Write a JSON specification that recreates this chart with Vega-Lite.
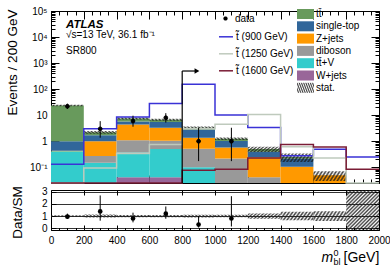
{
  "$schema": "https://vega.github.io/schema/vega-lite/v6.json",
  "padding": {"left": 4, "top": 5, "right": 0, "bottom": 0},
  "spacing": 7,
  "bounds": "flush",
  "config": {
    "font": "Liberation Sans",
    "view": {"stroke": "black", "strokeWidth": 1},
    "axis": {"domain": false, "grid": false, "labelFont": "Liberation Sans", "labelFontSize": 10, "labelColor": "black", "tickColor": "black", "tickWidth": 1, "titleColor": "black", "titleFont": "Liberation Sans", "titleFontWeight": "normal", "labelFlush": false, "labelOverlap": false},
    "legend": {"labelFont": "Liberation Sans", "labelFontSize": 10, "labelColor": "black", "padding": 0}
  },
  "datasets": {
    "bkg": [
      {"lo": 0, "hi": 200, "process": "tt\u0304+V", "events": 0.41},
      {"lo": 0, "hi": 200, "process": "diboson", "events": 0.005},
      {"lo": 0, "hi": 200, "process": "Z+jets", "events": 0.02},
      {"lo": 0, "hi": 200, "process": "single-top", "events": 0.56},
      {"lo": 0, "hi": 200, "process": "tt\u0304", "events": 22.5},
      {"lo": 200, "hi": 400, "process": "tt\u0304+V", "events": 0.15},
      {"lo": 200, "hi": 400, "process": "diboson", "events": 0.12},
      {"lo": 200, "hi": 400, "process": "Z+jets", "events": 0.73},
      {"lo": 200, "hi": 400, "process": "single-top", "events": 0.7},
      {"lo": 200, "hi": 400, "process": "tt\u0304", "events": 0.5},
      {"lo": 400, "hi": 600, "process": "W+jets", "events": 0.042},
      {"lo": 400, "hi": 600, "process": "tt\u0304+V", "events": 0.33},
      {"lo": 400, "hi": 600, "process": "diboson", "events": 0.73},
      {"lo": 400, "hi": 600, "process": "Z+jets", "events": 3.3},
      {"lo": 400, "hi": 600, "process": "single-top", "events": 1.3},
      {"lo": 400, "hi": 600, "process": "tt\u0304", "events": 1.8},
      {"lo": 600, "hi": 800, "process": "W+jets", "events": 0.042},
      {"lo": 600, "hi": 800, "process": "tt\u0304+V", "events": 0.46},
      {"lo": 600, "hi": 800, "process": "diboson", "events": 0.55},
      {"lo": 600, "hi": 800, "process": "Z+jets", "events": 2.25},
      {"lo": 600, "hi": 800, "process": "single-top", "events": 2.2},
      {"lo": 600, "hi": 800, "process": "tt\u0304", "events": 1.2},
      {"lo": 800, "hi": 1000, "process": "tt\u0304+V", "events": 0.1},
      {"lo": 800, "hi": 1000, "process": "diboson", "events": 0.42},
      {"lo": 800, "hi": 1000, "process": "Z+jets", "events": 0.83},
      {"lo": 800, "hi": 1000, "process": "single-top", "events": 1.45},
      {"lo": 800, "hi": 1000, "process": "tt\u0304", "events": 0.5},
      {"lo": 1000, "hi": 1200, "process": "tt\u0304+V", "events": 0.01},
      {"lo": 1000, "hi": 1200, "process": "diboson", "events": 0.21},
      {"lo": 1000, "hi": 1200, "process": "Z+jets", "events": 0.35},
      {"lo": 1000, "hi": 1200, "process": "single-top", "events": 0.46},
      {"lo": 1000, "hi": 1200, "process": "tt\u0304", "events": 0.22},
      {"lo": 1200, "hi": 1400, "process": "diboson", "events": 0.042},
      {"lo": 1200, "hi": 1400, "process": "Z+jets", "events": 0.2},
      {"lo": 1200, "hi": 1400, "process": "single-top", "events": 0.15},
      {"lo": 1200, "hi": 1400, "process": "tt\u0304", "events": 0.11},
      {"lo": 1400, "hi": 1600, "process": "Z+jets", "events": 0.106},
      {"lo": 1400, "hi": 1600, "process": "single-top", "events": 0.11},
      {"lo": 1400, "hi": 1600, "process": "tt\u0304", "events": 0.034},
      {"lo": 1600, "hi": 1800, "process": "Z+jets", "events": 0.05}
    ],
    "stat": [
      {"band": "stat.", "lo": 0, "hi": 200, "slo": 21.9, "shi": 25.1, "rlo": 0.93, "rhi": 1.07},
      {"band": "stat.", "lo": 200, "hi": 400, "slo": 1.94, "shi": 2.46, "rlo": 0.88, "rhi": 1.12},
      {"band": "stat.", "lo": 400, "hi": 600, "slo": 6.8, "shi": 8.2, "rlo": 0.91, "rhi": 1.09},
      {"band": "stat.", "lo": 600, "hi": 800, "slo": 6.1, "shi": 7.3, "rlo": 0.91, "rhi": 1.09},
      {"band": "stat.", "lo": 800, "hi": 1000, "slo": 2.94, "shi": 3.66, "rlo": 0.89, "rhi": 1.11},
      {"band": "stat.", "lo": 1000, "hi": 1200, "slo": 1.13, "shi": 1.38, "rlo": 0.9, "rhi": 1.1},
      {"band": "stat.", "lo": 1200, "hi": 1400, "slo": 0.39, "shi": 0.61, "rlo": 0.78, "rhi": 1.22},
      {"band": "stat.", "lo": 1400, "hi": 1600, "slo": 0.16, "shi": 0.34, "rlo": 0.65, "rhi": 1.35},
      {"band": "stat.", "lo": 1600, "hi": 1800, "slo": 0.03, "shi": 0.07, "rlo": 0.6, "rhi": 1.4},
      {"band": "stat.", "lo": 1800, "hi": 2000, "slo": null, "shi": null, "rlo": -0.3, "rhi": 3.4}
    ],
    "sig": [
      {"series": "t\u0303 (900 GeV)", "x": 0, "val": 0.13},
      {"series": "t\u0303 (900 GeV)", "x": 200, "val": 3.0},
      {"series": "t\u0303 (900 GeV)", "x": 400, "val": 8.6},
      {"series": "t\u0303 (900 GeV)", "x": 600, "val": 28},
      {"series": "t\u0303 (900 GeV)", "x": 800, "val": 155},
      {"series": "t\u0303 (900 GeV)", "x": 1000, "val": 10.3},
      {"series": "t\u0303 (900 GeV)", "x": 1200, "val": 3.4},
      {"series": "t\u0303 (900 GeV)", "x": 1400, "val": 0.28},
      {"series": "t\u0303 (900 GeV)", "x": 1600, "val": 0.49},
      {"series": "t\u0303 (900 GeV)", "x": 1800, "val": 0.25},
      {"series": "t\u0303 (900 GeV)", "x": 2000, "val": 0.25},
      {"series": "t\u0303 (1250 GeV)", "x": 0, "val": 0.01},
      {"series": "t\u0303 (1250 GeV)", "x": 200, "val": 0.094},
      {"series": "t\u0303 (1250 GeV)", "x": 400, "val": 0.34},
      {"series": "t\u0303 (1250 GeV)", "x": 600, "val": 0.75},
      {"series": "t\u0303 (1250 GeV)", "x": 800, "val": 3.0},
      {"series": "t\u0303 (1250 GeV)", "x": 1000, "val": 4.5},
      {"series": "t\u0303 (1250 GeV)", "x": 1200, "val": 10.6},
      {"series": "t\u0303 (1250 GeV)", "x": 1400, "val": 0.62},
      {"series": "t\u0303 (1250 GeV)", "x": 1600, "val": 0.23},
      {"series": "t\u0303 (1250 GeV)", "x": 1800, "val": 0.01},
      {"series": "t\u0303 (1250 GeV)", "x": 2000, "val": 0.01},
      {"series": "t\u0303 (1600 GeV)", "x": 0, "val": 0.01},
      {"series": "t\u0303 (1600 GeV)", "x": 200, "val": 0.01},
      {"series": "t\u0303 (1600 GeV)", "x": 400, "val": 0.01},
      {"series": "t\u0303 (1600 GeV)", "x": 600, "val": 0.01},
      {"series": "t\u0303 (1600 GeV)", "x": 800, "val": 0.077},
      {"series": "t\u0303 (1600 GeV)", "x": 1000, "val": 0.084},
      {"series": "t\u0303 (1600 GeV)", "x": 1200, "val": 0.23},
      {"series": "t\u0303 (1600 GeV)", "x": 1400, "val": 0.75},
      {"series": "t\u0303 (1600 GeV)", "x": 1600, "val": 0.6},
      {"series": "t\u0303 (1600 GeV)", "x": 1800, "val": 0.084},
      {"series": "t\u0303 (1600 GeV)", "x": 2000, "val": 0.084}
    ],
    "obs": [
      {"kind": "data", "x": 100, "n": 22, "lo": 17.4, "hi": 27.8, "ratio": 0.95, "rlo": 0.76, "rhi": 1.2},
      {"kind": "data", "x": 300, "n": 3, "lo": 1.37, "hi": 5.92, "ratio": 1.38, "rlo": 0.62, "rhi": 2.7},
      {"kind": "data", "x": 500, "n": 6, "lo": 3.62, "hi": 9.58, "ratio": 0.8, "rlo": 0.48, "rhi": 1.28},
      {"kind": "data", "x": 700, "n": 8, "lo": 5.22, "hi": 11.96, "ratio": 1.2, "rlo": 0.78, "rhi": 1.79},
      {"kind": "data", "x": 900, "n": 1, "lo": 0.173, "hi": 3.3, "ratio": 0.3, "rlo": 0.05, "rhi": 1.0},
      {"kind": "data", "x": 1100, "n": 1, "lo": 0.173, "hi": 3.3, "ratio": 0.8, "rlo": 0.14, "rhi": 2.64}
    ]
  },
  "vconcat": [
    {
      "width": 328,
      "height": 172,
      "resolve": {"axis": {"x": "independent", "y": "independent"}, "scale": {"opacity": "independent"}, "legend": {"opacity": "independent"}},
      "layer": [
        {
          "data": {"name": "bkg"},
          "transform": [{"stack": "events", "groupby": ["lo"], "as": ["y0", "y1"]}],
          "mark": {"type": "rect"},
          "encoding": {
            "x": {"field": "lo", "type": "quantitative", "scale": {"domain": [0, 2000], "nice": false, "zero": false},
                  "axis": {"orient": "bottom", "values": [0, 200, 400, 600, 800, 1000, 1200, 1400, 1600, 1800, 2000], "labels": false, "tickSize": -8, "title": null}},
            "x2": {"field": "hi"},
            "y": {"field": "y1", "type": "quantitative", "scale": {"type": "log", "domain": [0.025, 100000], "nice": false, "clamp": true},
                  "axis": {"orient": "left", "values": [0.1, 1, 10, 100, 1000, 10000, 100000], "ticks": false, "tickSize": 0, "labelPadding": 4,
                           "labelExpr": "datum.value == 100000 ? '10\u2075' : datum.value == 10000 ? '10\u2074' : datum.value == 1000 ? '10\u00b3' : datum.value == 100 ? '10\u00b2' : datum.value == 10 ? '10' : datum.value == 1 ? '1' : '10\u207b\u00b9'",
                           "title": "Events / 200 GeV", "titleFontSize": 13.5, "titleX": -39, "titleY": 51, "titleAngle": -90, "titleAlign": "center", "titleBaseline": "middle"}},
            "y2": {"field": "y0"},
            "fill": {"field": "process", "type": "nominal",
                     "scale": {"domain": ["tt\u0304", "single-top", "Z+jets", "diboson", "tt\u0304+V", "W+jets"],
                               "range": ["#689a5c", "#31669a", "#ff9900", "#999999", "#33cccc", "#996699"]},
                     "legend": {"orient": "none", "legendX": 249.5, "legendY": -2, "title": null, "direction": "vertical",
                                "symbolType": "M-1.7,-1H1.7V1H-1.7Z", "symbolSize": 100, "symbolStrokeWidth": 0,
                                "labelFontSize": 10, "labelOffset": 5.5, "rowPadding": 2.3}}
          }
        },
        {
          "data": {"name": "stat"},
          "transform": [{"filter": {"field": "shi", "valid": true}}],
          "mark": {"type": "rect", "fill": {"gradient": "linear", "x1": 0, "y1": 0, "x2": 1.14, "y2": 0.21, "stops": [
            {"offset": 0, "color": "rgba(0,0,0,0)"}, {"offset": 0.0455, "color": "rgba(30,30,30,0.85)"}, {"offset": 0.0909, "color": "rgba(0,0,0,0)"}, {"offset": 0.1364, "color": "rgba(30,30,30,0.85)"},
            {"offset": 0.1818, "color": "rgba(0,0,0,0)"}, {"offset": 0.2273, "color": "rgba(30,30,30,0.85)"}, {"offset": 0.2727, "color": "rgba(0,0,0,0)"}, {"offset": 0.3182, "color": "rgba(30,30,30,0.85)"},
            {"offset": 0.3636, "color": "rgba(0,0,0,0)"}, {"offset": 0.4091, "color": "rgba(30,30,30,0.85)"}, {"offset": 0.4545, "color": "rgba(0,0,0,0)"}, {"offset": 0.5, "color": "rgba(30,30,30,0.85)"},
            {"offset": 0.5455, "color": "rgba(0,0,0,0)"}, {"offset": 0.5909, "color": "rgba(30,30,30,0.85)"}, {"offset": 0.6364, "color": "rgba(0,0,0,0)"}, {"offset": 0.6818, "color": "rgba(30,30,30,0.85)"},
            {"offset": 0.7273, "color": "rgba(0,0,0,0)"}, {"offset": 0.7727, "color": "rgba(30,30,30,0.85)"}, {"offset": 0.8182, "color": "rgba(0,0,0,0)"}, {"offset": 0.8636, "color": "rgba(30,30,30,0.85)"},
            {"offset": 0.9091, "color": "rgba(0,0,0,0)"}, {"offset": 0.9545, "color": "rgba(30,30,30,0.85)"}, {"offset": 1, "color": "rgba(0,0,0,0)"}]}},
          "encoding": {
            "x": {"field": "lo", "type": "quantitative", "axis": {"orient": "bottom", "values": [0, 50, 100, 150, 200, 250, 300, 350, 400, 450, 500, 550, 600, 650, 700, 750, 800, 850, 900, 950, 1000, 1050, 1100, 1150, 1200, 1250, 1300, 1350, 1400, 1450, 1500, 1550, 1600, 1650, 1700, 1750, 1800, 1850, 1900, 1950, 2000], "labels": false, "tickSize": -4, "title": null}},
            "x2": {"field": "hi"},
            "y": {"field": "shi", "type": "quantitative", "axis": {"orient": "left", "values": [0.1, 1, 10, 100, 1000, 10000, 100000], "labels": false, "tickSize": -8, "title": null}},
            "y2": {"field": "slo"},
            "opacity": {"field": "band", "type": "nominal", "scale": {"range": [1]},
                        "legend": {"orient": "none", "legendX": 249.5, "legendY": 71.8, "title": null, "direction": "vertical",
                                   "symbolType": "M-1.7,-1H1.7V1H-1.7Z", "symbolSize": 100, "symbolStrokeWidth": 0,
                                   "labelFontSize": 10, "labelOffset": 5.5}}
          }
        },
        {
          "data": {"name": "sig"},
          "mark": {"type": "line", "interpolate": "step-after", "strokeWidth": 1.5},
          "encoding": {
            "x": {"field": "x", "type": "quantitative", "axis": {"orient": "top", "values": [0, 200, 400, 600, 800, 1000, 1200, 1400, 1600, 1800, 2000], "labels": false, "tickSize": -8, "title": null}},
            "y": {"field": "val", "type": "quantitative", "axis": {"orient": "left", "values": [0.03, 0.04, 0.05, 0.06, 0.07, 0.08, 0.09, 0.2, 0.3, 0.4, 0.5, 0.6, 0.7, 0.8, 0.9, 2, 3, 4, 5, 6, 7, 8, 9, 20, 30, 40, 50, 60, 70, 80, 90, 200, 300, 400, 500, 600, 700, 800, 900, 2000, 3000, 4000, 5000, 6000, 7000, 8000, 9000, 20000, 30000, 40000, 50000, 60000, 70000, 80000, 90000], "labels": false, "tickSize": -4, "title": null}},
            "stroke": {"field": "series", "type": "nominal",
                       "scale": {"domain": ["t\u0303 (900 GeV)", "t\u0303 (1250 GeV)", "t\u0303 (1600 GeV)"], "range": ["#3a32d6", "#bfcabd", "#7a1c35"]},
                       "legend": {"orient": "none", "legendX": 167, "legendY": 17.8, "title": null, "direction": "vertical",
                                  "symbolType": "stroke", "symbolSize": 196, "symbolStrokeWidth": 1.5, "labelFontSize": 10, "labelOffset": 2, "rowPadding": 4}}
          }
        },
        {
          "data": {"name": "obs"},
          "mark": {"type": "rule", "color": "black", "strokeWidth": 1},
          "encoding": {
            "x": {"field": "x", "type": "quantitative", "axis": {"orient": "top", "values": [0, 50, 100, 150, 200, 250, 300, 350, 400, 450, 500, 550, 600, 650, 700, 750, 800, 850, 900, 950, 1000, 1050, 1100, 1150, 1200, 1250, 1300, 1350, 1400, 1450, 1500, 1550, 1600, 1650, 1700, 1750, 1800, 1850, 1900, 1950, 2000], "labels": false, "tickSize": -4, "title": null}},
            "y": {"field": "lo", "type": "quantitative", "axis": {"orient": "right", "values": [0.1, 1, 10, 100, 1000, 10000, 100000], "labels": false, "tickSize": -8, "title": null}},
            "y2": {"field": "hi"}
          }
        },
        {
          "data": {"name": "obs"},
          "mark": {"type": "circle", "color": "black", "stroke": "black", "strokeWidth": 1, "size": 14},
          "encoding": {
            "x": {"field": "x", "type": "quantitative", "axis": null},
            "y": {"field": "n", "type": "quantitative", "axis": {"orient": "right", "values": [0.03, 0.04, 0.05, 0.06, 0.07, 0.08, 0.09, 0.2, 0.3, 0.4, 0.5, 0.6, 0.7, 0.8, 0.9, 2, 3, 4, 5, 6, 7, 8, 9, 20, 30, 40, 50, 60, 70, 80, 90, 200, 300, 400, 500, 600, 700, 800, 900, 2000, 3000, 4000, 5000, 6000, 7000, 8000, 9000, 20000, 30000, 40000, 50000, 60000, 70000, 80000, 90000], "labels": false, "tickSize": -4, "title": null}},
            "opacity": {"field": "kind", "type": "nominal", "scale": {"range": [1]},
                        "legend": {"orient": "none", "legendX": 167, "legendY": 0, "title": null, "direction": "vertical",
                                   "symbolType": "M0,-0.75V0.75M0.3,0.124L0.124,0.3L-0.124,0.3L-0.3,0.124L-0.3,-0.124L-0.124,-0.3L0.124,-0.3L0.3,-0.124Z",
                                   "symbolSize": 196, "symbolFillColor": "black", "symbolStrokeColor": "black", "symbolStrokeWidth": 1,
                                   "labelFontSize": 10, "labelOffset": 2}}
          }
        },
        {
          "data": {"values": [{}]},
          "mark": {"type": "rule", "color": "black", "strokeWidth": 1.2},
          "encoding": {
            "x": {"datum": 800, "type": "quantitative", "axis": null},
            "y": {"datum": 0.01, "type": "quantitative", "axis": null},
            "y2": {"datum": 497}
          }
        },
        {
          "data": {"values": [{}]},
          "mark": {"type": "rule", "color": "black", "strokeWidth": 1.2},
          "encoding": {
            "x": {"datum": 800, "type": "quantitative", "axis": null},
            "x2": {"datum": 880},
            "y": {"datum": 497, "type": "quantitative", "axis": null}
          }
        },
        {
          "data": {"values": [{}]},
          "mark": {"type": "point", "shape": "triangle-right", "filled": true, "color": "black", "opacity": 1, "size": 30},
          "encoding": {
            "x": {"datum": 890, "type": "quantitative", "axis": null},
            "y": {"datum": 497, "type": "quantitative", "axis": null}
          }
        },
        {
          "data": {"values": [{}]},
          "mark": {"type": "text", "text": "ATLAS", "font": "Liberation Sans", "fontSize": 11.5, "fontWeight": "bold", "fontStyle": "italic", "align": "left", "baseline": "alphabetic", "color": "black"},
          "encoding": {
            "x": {"datum": 91.5, "type": "quantitative", "axis": null},
            "y": {"datum": 22250, "type": "quantitative", "axis": null}
          }
        },
        {
          "data": {"values": [{}]},
          "mark": {"type": "text", "text": "\u221as=13 TeV, 36.1 fb\u207b\u00b9", "font": "Liberation Sans", "fontSize": 10, "align": "left", "baseline": "alphabetic", "color": "black"},
          "encoding": {
            "x": {"datum": 91.5, "type": "quantitative", "axis": null},
            "y": {"datum": 9190, "type": "quantitative", "axis": null}
          }
        },
        {
          "data": {"values": [{}]},
          "mark": {"type": "text", "text": "SR800", "font": "Liberation Sans", "fontSize": 10, "align": "left", "baseline": "alphabetic", "color": "black"},
          "encoding": {
            "x": {"datum": 91.5, "type": "quantitative", "axis": null},
            "y": {"datum": 2233, "type": "quantitative", "axis": null}
          }
        }
      ]
    },
    {
      "width": 328,
      "height": 40,
      "resolve": {"axis": {"x": "independent", "y": "independent"}},
      "layer": [
        {
          "data": {"name": "stat"},
          "transform": [{"filter": "datum.lo < 1800"}],
          "mark": {"type": "rect", "fill": {"gradient": "linear", "x1": 0, "y1": 0, "x2": 1.14, "y2": 0.21, "stops": [
            {"offset": 0, "color": "rgba(0,0,0,0)"}, {"offset": 0.0455, "color": "rgba(30,30,30,0.85)"}, {"offset": 0.0909, "color": "rgba(0,0,0,0)"}, {"offset": 0.1364, "color": "rgba(30,30,30,0.85)"},
            {"offset": 0.1818, "color": "rgba(0,0,0,0)"}, {"offset": 0.2273, "color": "rgba(30,30,30,0.85)"}, {"offset": 0.2727, "color": "rgba(0,0,0,0)"}, {"offset": 0.3182, "color": "rgba(30,30,30,0.85)"},
            {"offset": 0.3636, "color": "rgba(0,0,0,0)"}, {"offset": 0.4091, "color": "rgba(30,30,30,0.85)"}, {"offset": 0.4545, "color": "rgba(0,0,0,0)"}, {"offset": 0.5, "color": "rgba(30,30,30,0.85)"},
            {"offset": 0.5455, "color": "rgba(0,0,0,0)"}, {"offset": 0.5909, "color": "rgba(30,30,30,0.85)"}, {"offset": 0.6364, "color": "rgba(0,0,0,0)"}, {"offset": 0.6818, "color": "rgba(30,30,30,0.85)"},
            {"offset": 0.7273, "color": "rgba(0,0,0,0)"}, {"offset": 0.7727, "color": "rgba(30,30,30,0.85)"}, {"offset": 0.8182, "color": "rgba(0,0,0,0)"}, {"offset": 0.8636, "color": "rgba(30,30,30,0.85)"},
            {"offset": 0.9091, "color": "rgba(0,0,0,0)"}, {"offset": 0.9545, "color": "rgba(30,30,30,0.85)"}, {"offset": 1, "color": "rgba(0,0,0,0)"}]}},
          "encoding": {
            "x": {"field": "lo", "type": "quantitative", "scale": {"domain": [0, 2000], "nice": false, "zero": false},
                  "axis": {"orient": "bottom", "values": [0, 200, 400, 600, 800, 1000, 1200, 1400, 1600, 1800, 2000], "format": "d", "ticks": false, "tickSize": 0, "labelPadding": 5,
                           "title": "[GeV]", "titleFontSize": 14, "titleX": 292, "titleY": 31, "titleAlign": "left", "titleBaseline": "alphabetic"}},
            "x2": {"field": "hi"},
            "y": {"field": "rhi", "type": "quantitative", "scale": {"domain": [-0.15, 3.15], "nice": false, "zero": false, "clamp": true},
                  "axis": {"orient": "left", "values": [0, 1, 2, 3], "ticks": false, "tickSize": 0, "labelPadding": 4, "grid": true, "gridColor": "#333333", "gridWidth": 1, "gridOpacity": 1,
                           "title": "Data/SM", "titleFontSize": 13.5, "titleX": -34, "titleY": 22, "titleAngle": -90, "titleAlign": "center", "titleBaseline": "middle"}},
            "y2": {"field": "rlo"}
          }
        },
        {
          "data": {"name": "stat"},
          "transform": [{"filter": "datum.lo >= 1800"}],
          "mark": {"type": "rect", "fill": {"gradient": "linear", "x1": 0, "y1": 0, "x2": 0.896, "y2": 1.086, "stops": [
            {"offset": 0, "color": "rgba(0,0,0,0)"}, {"offset": 0.025, "color": "rgba(30,30,30,0.85)"}, {"offset": 0.05, "color": "rgba(0,0,0,0)"}, {"offset": 0.075, "color": "rgba(30,30,30,0.85)"},
            {"offset": 0.1, "color": "rgba(0,0,0,0)"}, {"offset": 0.125, "color": "rgba(30,30,30,0.85)"}, {"offset": 0.15, "color": "rgba(0,0,0,0)"}, {"offset": 0.175, "color": "rgba(30,30,30,0.85)"},
            {"offset": 0.2, "color": "rgba(0,0,0,0)"}, {"offset": 0.225, "color": "rgba(30,30,30,0.85)"}, {"offset": 0.25, "color": "rgba(0,0,0,0)"}, {"offset": 0.275, "color": "rgba(30,30,30,0.85)"},
            {"offset": 0.3, "color": "rgba(0,0,0,0)"}, {"offset": 0.325, "color": "rgba(30,30,30,0.85)"}, {"offset": 0.35, "color": "rgba(0,0,0,0)"}, {"offset": 0.375, "color": "rgba(30,30,30,0.85)"},
            {"offset": 0.4, "color": "rgba(0,0,0,0)"}, {"offset": 0.425, "color": "rgba(30,30,30,0.85)"}, {"offset": 0.45, "color": "rgba(0,0,0,0)"}, {"offset": 0.475, "color": "rgba(30,30,30,0.85)"},
            {"offset": 0.5, "color": "rgba(0,0,0,0)"}, {"offset": 0.525, "color": "rgba(30,30,30,0.85)"}, {"offset": 0.55, "color": "rgba(0,0,0,0)"}, {"offset": 0.575, "color": "rgba(30,30,30,0.85)"},
            {"offset": 0.6, "color": "rgba(0,0,0,0)"}, {"offset": 0.625, "color": "rgba(30,30,30,0.85)"}, {"offset": 0.65, "color": "rgba(0,0,0,0)"}, {"offset": 0.675, "color": "rgba(30,30,30,0.85)"},
            {"offset": 0.7, "color": "rgba(0,0,0,0)"}, {"offset": 0.725, "color": "rgba(30,30,30,0.85)"}, {"offset": 0.75, "color": "rgba(0,0,0,0)"}, {"offset": 0.775, "color": "rgba(30,30,30,0.85)"},
            {"offset": 0.8, "color": "rgba(0,0,0,0)"}, {"offset": 0.825, "color": "rgba(30,30,30,0.85)"}, {"offset": 0.85, "color": "rgba(0,0,0,0)"}, {"offset": 0.875, "color": "rgba(30,30,30,0.85)"},
            {"offset": 0.9, "color": "rgba(0,0,0,0)"}, {"offset": 0.925, "color": "rgba(30,30,30,0.85)"}, {"offset": 0.95, "color": "rgba(0,0,0,0)"}, {"offset": 0.975, "color": "rgba(30,30,30,0.85)"},
            {"offset": 1, "color": "rgba(0,0,0,0)"}]}},
          "encoding": {
            "x": {"field": "lo", "type": "quantitative",
                  "axis": {"orient": "bottom", "values": [0, 200, 400, 600, 800, 1000, 1200, 1400, 1600, 1800, 2000], "labels": false, "tickSize": -5,
                           "title": "m", "titleFontSize": 14, "titleFontStyle": "italic", "titleX": 270, "titleY": 31, "titleAlign": "left", "titleBaseline": "alphabetic"}},
            "x2": {"field": "hi"},
            "y": {"field": "rhi", "type": "quantitative", "axis": {"orient": "left", "values": [0, 1, 2, 3], "labels": false, "tickSize": -5, "title": null}},
            "y2": {"field": "rlo"}
          }
        },
        {
          "data": {"name": "obs"},
          "mark": {"type": "rule", "color": "black", "strokeWidth": 1},
          "encoding": {
            "x": {"field": "x", "type": "quantitative",
                  "axis": {"orient": "bottom", "values": [0, 50, 100, 150, 200, 250, 300, 350, 400, 450, 500, 550, 600, 650, 700, 750, 800, 850, 900, 950, 1000, 1050, 1100, 1150, 1200, 1250, 1300, 1350, 1400, 1450, 1500, 1550, 1600, 1650, 1700, 1750, 1800, 1850, 1900, 1950, 2000], "labels": false, "tickSize": -2.5,
                           "title": "bl", "titleFontSize": 9, "titleX": 282, "titleY": 34, "titleAlign": "left", "titleBaseline": "alphabetic"}},
            "y": {"field": "rlo", "type": "quantitative", "axis": {"orient": "right", "values": [0, 1, 2, 3], "labels": false, "tickSize": -5, "title": null}},
            "y2": {"field": "rhi"}
          }
        },
        {
          "data": {"name": "obs"},
          "mark": {"type": "circle", "color": "black", "opacity": 1, "size": 22},
          "encoding": {
            "x": {"field": "x", "type": "quantitative",
                  "axis": {"orient": "top", "values": [0, 200, 400, 600, 800, 1000, 1200, 1400, 1600, 1800, 2000], "labels": false, "tickSize": -5,
                           "title": "0", "titleFontSize": 9, "titleX": 282, "titleY": 65, "titleAlign": "left", "titleBaseline": "alphabetic"}},
            "y": {"field": "ratio", "type": "quantitative", "axis": null}
          }
        }
      ]
    }
  ]
}
